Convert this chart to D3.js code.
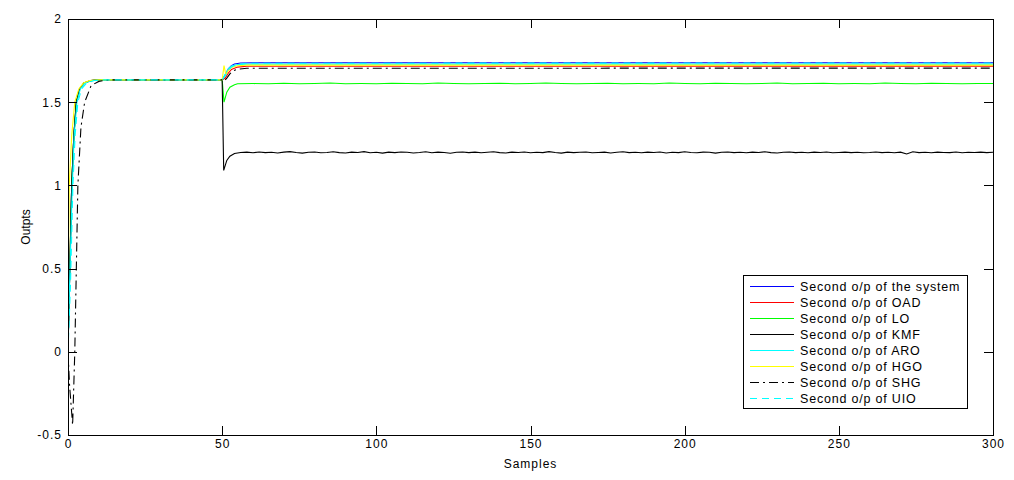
<!DOCTYPE html>
<html>
<head>
<meta charset="utf-8">
<script src="https://cdn.jsdelivr.net/npm/d3@7"></script>
<style>
  body { margin: 0; background: #fff; }
  svg text { font-family: Arial, "Liberation Sans", sans-serif; fill: #000; }
</style>
</head>
<body>
<div id="chart"></div>
<script>
// values, [sample, output]
const riseCommon = [[0, 0], [0.4, 0.35], [1.2, 1.0], [1.9, 1.3], [2.7, 1.5], [3.8, 1.58], [5.2, 1.615], [7.5, 1.63], [10, 1.634], [50, 1.634]]
const systemOut = riseCommon.concat([[51, 1.665], [52, 1.70], [53, 1.72], [54, 1.73], [56, 1.736], [60, 1.737], [300, 1.737]])
const oadOut = riseCommon.concat([[51, 1.645], [52, 1.675], [53, 1.697], [55, 1.711], [58, 1.716], [300, 1.717]])
const loHead = riseCommon.concat([[50.6, 1.50], [51.5, 1.56], [52.5, 1.59], [54, 1.605]])
const loSteady = [1.611, 1.612, 1.611, 1.614, 1.611, 1.612, 1.615, 1.611, 1.612, 1.611, 1.614, 1.612, 1.611, 1.615, 1.612, 1.611, 1.612, 1.614, 1.611, 1.612,
                  1.615, 1.612, 1.611, 1.612, 1.614, 1.611, 1.612, 1.611, 1.615, 1.612, 1.611, 1.614, 1.612, 1.611, 1.612, 1.615, 1.611, 1.612, 1.614, 1.611,
                  1.612, 1.611, 1.615, 1.612, 1.611, 1.614, 1.612, 1.611, 1.612, 1.612]
const kmfHead = riseCommon.concat([[50.5, 1.09], [51.5, 1.15], [52.5, 1.175]])
const kmfSteady = [1.192, 1.198, 1.200, 1.196, 1.201, 1.197, 1.199, 1.195, 1.200, 1.203, 1.198, 1.194, 1.199, 1.201, 1.196, 1.198, 1.202, 1.197, 1.195, 1.200,
                   1.198, 1.203, 1.196, 1.199, 1.194, 1.200, 1.197, 1.201, 1.199, 1.195, 1.198, 1.202, 1.196, 1.200, 1.198, 1.193, 1.199, 1.201, 1.197, 1.200,
                   1.196, 1.199, 1.202, 1.197, 1.195, 1.200, 1.198, 1.201, 1.196, 1.199, 1.197, 1.203, 1.198, 1.194, 1.200, 1.197, 1.199, 1.201, 1.196, 1.198,
                   1.200, 1.195, 1.199, 1.202, 1.197, 1.199, 1.196, 1.200, 1.198, 1.201, 1.195, 1.199, 1.197, 1.202, 1.198, 1.196, 1.200, 1.199, 1.194, 1.199,
                   1.201, 1.197, 1.199, 1.196, 1.200, 1.198, 1.202, 1.197, 1.195, 1.199, 1.201, 1.197, 1.199, 1.196, 1.200, 1.198, 1.201, 1.196, 1.198, 1.200,
                   1.197, 1.199, 1.196, 1.198, 1.201, 1.197, 1.199, 1.196, 1.200, 1.189, 1.202, 1.197, 1.199, 1.196, 1.200, 1.198, 1.197, 1.201, 1.196, 1.199,
                   1.198, 1.200, 1.197, 1.199]
const aroOut = [[0, 0], [0.5, 0.4], [1.4, 1.0], [2.0, 1.3], [2.9, 1.5], [4, 1.58], [5.5, 1.615], [8, 1.63], [11, 1.634], [50, 1.634],
                [51, 1.67], [52, 1.70], [53, 1.718], [55, 1.726], [58, 1.729], [300, 1.729]]
const hgoOut = [[0, 0], [0.05, 0.37], [0.4, 1.0], [1.2, 1.3], [2.2, 1.5], [3.5, 1.58], [5, 1.615], [7, 1.63], [10, 1.634], [50, 1.634],
                [50.6, 1.72], [51.2, 1.665], [52, 1.69], [53, 1.708], [55, 1.719], [58, 1.723], [300, 1.723]]
const shgOut = [[0, 0], [0.5, -0.2], [1.5, -0.44], [2.2, 0], [2.7, 0.5], [3.2, 1.0], [4.2, 1.35], [5.4, 1.5], [7.5, 1.6], [10, 1.625], [13, 1.634], [50, 1.634],
                [50.6, 1.625], [51.5, 1.645], [52.5, 1.67], [53.5, 1.688], [55, 1.698], [58, 1.704], [300, 1.705]]
const uioOut = [[0, 0], [0.8, 0.4], [1.6, 1.0], [2.3, 1.3], [3.2, 1.5], [4.4, 1.58], [6, 1.615], [8.5, 1.63], [12, 1.634], [50, 1.634],
                [51, 1.66], [52, 1.69], [53, 1.712], [55, 1.727], [58, 1.734], [300, 1.736]]

const xTicks = [0, 50, 100, 150, 200, 250, 300]
const yTicks = [-0.5, 0, 0.5, 1, 1.5, 2]

const loOut = loHead.concat(loSteady.map((v, i) => [55 + 5 * i, v]))
const kmfOut = kmfHead.concat(kmfSteady.map((v, i) => [54 + 2 * i, v]))

const series = [
    {name: 'Second o/p of the system', data: systemOut, color: '#0000ff', dash: null},
    {name: 'Second o/p of OAD', data: oadOut, color: '#ff0000', dash: null},
    {name: 'Second o/p of LO', data: loOut, color: '#00ff00', dash: null},
    {name: 'Second o/p of KMF', data: kmfOut, color: '#000000', dash: null},
    {name: 'Second o/p of ARO', data: aroOut, color: '#00ffff', dash: null},
    {name: 'Second o/p of HGO', data: hgoOut, color: '#ffff00', dash: null},
    {name: 'Second o/p of SHG', data: shgOut, color: '#000000', dash: '9,4,2,4'},
    {name: 'Second o/p of UIO', data: uioOut, color: '#00ffff', dash: '7,5'}
]

const W = 1014, H = 480
const margins = {top: 19, right: 21, bottom: 45, left: 68}
const width = W - margins.left - margins.right
const height = H - margins.top - margins.bottom

const svg = d3.select('#chart').append('svg')
    .attr('width', W).attr('height', H)

const g = svg.append('g').attr('transform', `translate(${margins.left},${margins.top})`)

const x = d3.scaleLinear().domain([0, 300]).range([0, width])
const y = d3.scaleLinear().domain([-0.5, 2]).range([height, 0])

// lines
g.append('defs').append('clipPath').attr('id', 'clip')
    .append('rect').attr('width', width).attr('height', height)

const line = d3.line().x(d => x(d[0])).y(d => y(d[1]))

g.append('g').attr('clip-path', 'url(#clip)')
    .selectAll('path').data(series).join('path')
    .attr('d', d => line(d.data))
    .attr('fill', 'none')
    .attr('stroke', d => d.color)
    .attr('stroke-width', 1.1)
    .attr('stroke-dasharray', d => d.dash)

// axes with inward ticks on all four sides
const tickLen = 9
const axisStyle = sel => {
    sel.select('.domain').remove()
    sel.selectAll('.tick line').attr('stroke', '#000').attr('shape-rendering', 'crispEdges')
    sel.selectAll('text').attr('font-size', 12).attr('letter-spacing', 1).style('font-family', 'Arial, "Liberation Sans", sans-serif')
}

g.append('g').attr('transform', `translate(0,${height})`)
    .call(d3.axisBottom(x).tickValues(xTicks).tickSize(-tickLen).tickPadding(4).tickFormat(d3.format('d')))
    .call(axisStyle)
g.append('g')
    .call(d3.axisTop(x).tickValues(xTicks).tickSize(-tickLen).tickFormat(''))
    .call(axisStyle)
g.append('g')
    .call(d3.axisLeft(y).tickValues(yTicks).tickSize(-tickLen).tickPadding(6).tickFormat(d => d))
    .call(axisStyle)
g.append('g').attr('transform', `translate(${width},0)`)
    .call(d3.axisRight(y).tickValues(yTicks).tickSize(-tickLen).tickFormat(''))
    .call(axisStyle)

g.append('rect')
    .attr('x', 0.5).attr('y', 0.5).attr('width', width).attr('height', height)
    .attr('fill', 'none').attr('stroke', '#000').attr('shape-rendering', 'crispEdges')

// axis titles
svg.append('text')
    .attr('x', margins.left + width / 2).attr('y', 468)
    .attr('text-anchor', 'middle').attr('font-size', 12).attr('letter-spacing', 1)
    .text('Samples')
svg.append('text')
    .attr('transform', `translate(30,${margins.top + height / 2}) rotate(-90)`)
    .attr('text-anchor', 'middle').attr('font-size', 12)
    .text('Outpts')

// legend
const legend = svg.append('g').attr('transform', 'translate(743,275)')
legend.append('rect')
    .attr('x', 0.5).attr('y', 0.5).attr('width', 224).attr('height', 133)
    .attr('fill', '#fff').attr('stroke', '#000').attr('shape-rendering', 'crispEdges')

const item = legend.selectAll('g.item').data(series).join('g')
    .attr('class', 'item')
    .attr('transform', (d, i) => `translate(0,${11 + i * 16})`)
item.append('line')
    .attr('x1', 7).attr('x2', 51).attr('y1', 0.5).attr('y2', 0.5)
    .attr('stroke', d => d.color)
    .attr('stroke-dasharray', d => d.dash)
    .attr('shape-rendering', 'crispEdges')
item.append('text')
    .attr('x', 57).attr('y', 5)
    .attr('font-size', 12.5).attr('letter-spacing', 0.8)
    .text(d => d.name)
</script>
</body>
</html>
